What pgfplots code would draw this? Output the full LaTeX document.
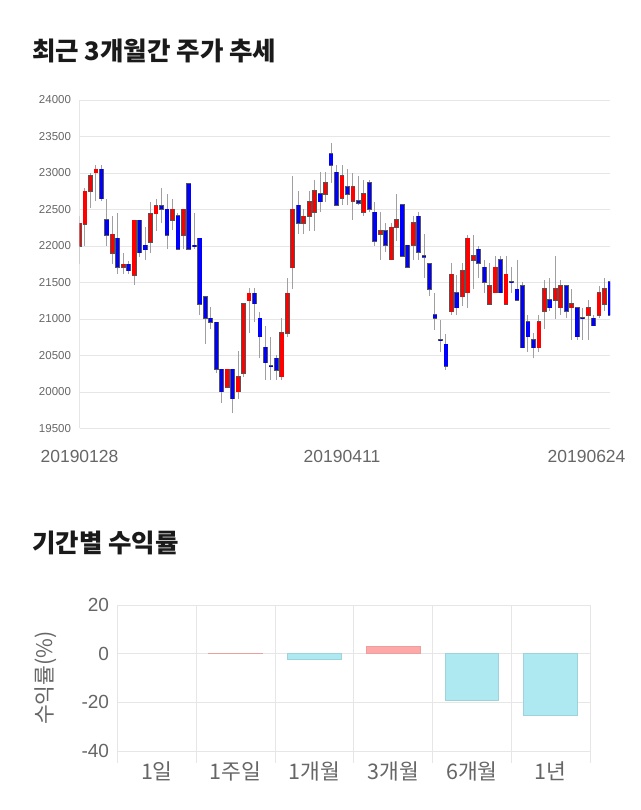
\documentclass[border=0pt]{standalone}
\usepackage{pgfplots}
\pgfplotsset{compat=1.18}
\usepackage{pgfplotstable}
\usepackage{fontspec}
\setmainfont{Liberation Sans}
\newfontfamily\kr{Noto Sans CJK KR}
\definecolor{cred}{HTML}{FF0000}
\definecolor{cblue}{HTML}{0000FF}
\definecolor{edge}{HTML}{555555}
\definecolor{wick}{HTML}{A0A0A0}
\definecolor{gridc}{HTML}{E6E6E6}
\definecolor{tickc}{HTML}{666666}
\definecolor{barred}{HTML}{FFA8A8}
\definecolor{barredE}{HTML}{EBA0A0}
\definecolor{barcyan}{HTML}{AEE9F2}
\definecolor{barcyanE}{HTML}{9ED3DC}
\definecolor{titlec}{HTML}{1A1A1A}

\pgfplotstableread{
x o h l c
0 22000 22410 21760 22310
1 22300 22800 22000 22750
2 22750 23000 22520 22960
3 23005 23110 22610 23050
4 23050 23110 22610 22650
5 22356 22650 22000 22150
6 21900 22410 21760 22160
7 22107 22456 21616 21710
8 21710 21900 21620 21750
9 21750 21800 21620 21660
10 21600 22360 21470 22350
11 22350 22360 21850 21910
12 22010 22260 21810 21950
13 22050 22600 21900 22440
14 22440 22650 22200 22550
15 22550 22800 22310 22500
16 22500 22710 21955 22150
17 22356 22650 22215 22500
18 22410 22450 21955 21955
19 22150 22500 21955 22500
20 22855 22860 21950 21955
21 22010 22456 21955 21995
22 22107 22110 21050 21205
23 21308 21310 20658 21010
24 21010 21161 20859 20955
25 20955 20960 20256 20310
26 20310 20315 19853 20004
27 20063 20310 20063 20310
28 20310 20310 19707 19908
29 20004 20562 19903 20210
30 20256 21207 20210 21207
31 21253 21422 20804 21354
32 21354 21422 20955 21207
33 21010 21100 20460 20760
34 20610 20905 20165 20400
35 20360 20760 20165 20345
36 20460 20510 20165 20300
37 20210 21010 20165 20815
38 20805 21560 20760 21355
39 21705 22965 21410 22505
40 22556 22750 22165 22314
41 22314 22506 22163 22405
42 22405 22750 22210 22607
43 22460 22908 22210 22758
44 22712 23010 22460 22607
45 22712 23010 22607 22863
46 23265 23410 22863 23105
47 23009 23105 22550 22556
48 22657 23105 22556 22963
49 22808 23055 22556 22712
50 22611 23000 22360 22808
51 22620 22955 22565 22590
52 22460 22910 22405 22712
53 22863 22900 22460 22506
54 22460 22600 22003 22062
55 22163 22460 21811 22209
56 22209 22314 21911 22012
57 21811 22314 21811 22259
58 22259 22712 22062 22360
59 22561 22565 21857 21857
60 22007 22010 21710 21710
61 22007 22405 21811 22314
62 22405 22460 21811 21911
63 21865 22163 21559 21850
64 21756 21760 21317 21408
65 21056 21362 20850 21010
66 20715 20985 20550 20700
67 20655 20800 20300 20353
68 21100 21762 21053 21611
69 21360 21602 21053 21154
70 21305 21762 21177 21657
71 21360 22151 21154 22105
72 21808 22151 21405 21863
73 21954 22000 21556 21762
74 21707 21808 21360 21501
75 21204 21762 21204 21456
76 21360 21863 21360 21707
77 21808 21863 21360 21360
78 21204 21863 21204 21611
79 21513 21707 21360 21500
80 21405 21808 21259 21259
81 21456 21506 20605 20605
82 20959 21055 20553 20758
83 20712 20804 20461 20607
84 20607 21055 20553 20959
85 21105 21534 20858 21411
86 21260 21566 21105 21155
87 21260 21863 21005 21411
88 21155 21534 21055 21457
89 21457 21460 21009 21105
90 21155 21406 20712 21205
91 21155 21160 20712 20758
92 21018 21155 20712 21005
93 21055 21260 20712 21155
94 21009 21050 20909 20909
95 21055 21457 21009 21361
96 21205 21566 21105 21411
97 21507 21550 21050 21055
}\candles

\begin{document}
\begin{tikzpicture}[x=1pt,y=1pt]
\path[use as bounding box] (0,0) rectangle (640,810);

% titles
\node[anchor=west, inner sep=0pt, text=titlec, font=\kr\bfseries\fontsize{25.5}{28}\selectfont] at (32,759) {최근 3개월간 주가 추세};
\node[anchor=west, inner sep=0pt, text=titlec, font=\kr\bfseries\fontsize{25.5}{28}\selectfont] at (32,267) {기간별 수익률};

% ---------- candlestick chart ----------
\begin{axis}[
  at={(79.5pt,381.5pt)}, anchor=south west,
  scale only axis, width=530.5pt, height=328.5pt,
  xmin=0, xmax=97, ymin=19500, ymax=24000,
  axis x line*=bottom, axis y line*=left,
  x axis line style={draw=none},
  y axis line style={draw=gridc, line width=1.5pt},
  ytick={19500,20000,...,24000},
  scaled y ticks=false,
  ymajorgrids, major grid style={draw=gridc, line width=0.8pt},
  tick style={draw=none},
  yticklabel style={font=\fontsize{11.5}{13}\selectfont, text=tickc, xshift=-5pt},
  /pgf/number format/.cd, 1000 sep={}, assume math mode=true,
  /pgfplots/.cd,
  xtick={0,48}, xticklabels={20190128,20190411},
  extra x ticks={97}, extra x tick labels={20190624},
  extra x tick style={xticklabel style={anchor=north east, xshift=19pt}},
  xticklabel style={font=\fontsize{17.5}{19}\selectfont, text=tickc, yshift=-18pt},
]
% wicks
\addplot[draw=none, mark=none, forget plot,
  error bars/.cd, y dir=plus, y explicit,
  error bar style={line width=1pt, draw=wick}, error mark=none]
  table[x=x, y=l, y error expr=\thisrow{h}-\thisrow{l}] {\candles};
% body outline
\addplot[draw=none, mark=none, forget plot,
  error bars/.cd, y dir=both, y explicit,
  error bar style={line width=4.8pt, draw=edge}, error mark=none]
  table[x=x, y expr=(\thisrow{o}+\thisrow{c})/2, y error expr={abs(\thisrow{c}-\thisrow{o})/2+8}] {\candles};
% rising bodies
\addplot[draw=none, mark=none, forget plot,
  restrict expr to domain={\thisrow{c}-\thisrow{o}}{0.5:100000},
  error bars/.cd, y dir=both, y explicit,
  error bar style={line width=3.4pt, draw=cred}, error mark=none]
  table[x=x, y expr=(\thisrow{o}+\thisrow{c})/2, y error expr={abs(\thisrow{c}-\thisrow{o})/2}] {\candles};
% falling bodies
\addplot[draw=none, mark=none, forget plot,
  restrict expr to domain={\thisrow{c}-\thisrow{o}}{-100000:0},
  error bars/.cd, y dir=both, y explicit,
  error bar style={line width=3.4pt, draw=cblue}, error mark=none]
  table[x=x, y expr=(\thisrow{o}+\thisrow{c})/2, y error expr={abs(\thisrow{c}-\thisrow{o})/2}] {\candles};
\end{axis}

% ---------- returns bar chart ----------
\begin{axis}[
  at={(117.5pt,59pt)}, anchor=south west,
  scale only axis, width=472.5pt, height=146pt,
  xmin=0, xmax=6, ymin=-40, ymax=20,
  axis line style={draw=none},
  ytick={-40,-20,0,20}, yticklabels={-40,-20,0,20},
  ymajorgrids, major grid style={draw=gridc, line width=0.8pt},
  xtick={0.5,1.5,2.5,3.5,4.5,5.5},
  xticklabels={1일,1주일,1개월,3개월,6개월,1년},
  minor xtick={0,1,2,3,4,5,6},
  xminorgrids, minor grid style={draw=gridc, line width=0.8pt},
  xtick pos=bottom, ytick pos=left, tick align=outside,
  major tick length=0pt, minor tick length=12pt,
  minor tick style={draw=gridc, line width=0.8pt},
  major tick style={draw=none},
  yticklabel style={font=\fontsize{19}{21}\selectfont, text=tickc, xshift=-5pt},
  xticklabel style={font=\kr\fontsize{21.5}{23}\selectfont, text=tickc, yshift=-7pt},
  ylabel={수익률(\%)},
  every axis y label/.style={at={(axis description cs:0,0.5)}, xshift=-72pt, rotate=90, anchor=center, font=\kr\fontsize{21.5}{23}\selectfont, text=tickc},
]
\addplot[ybar, bar shift=0pt, bar width=0.68, fill=barred, draw=barredE, line width=0.8pt] coordinates {(1.5,0.2) (3.5,3.1)};
\addplot[ybar, bar shift=0pt, bar width=0.68, fill=barcyan, draw=barcyanE, line width=0.8pt] coordinates {(2.5,-2.3) (4.5,-19.4) (5.5,-25.4)};
\end{axis}
\end{tikzpicture}
\end{document}
